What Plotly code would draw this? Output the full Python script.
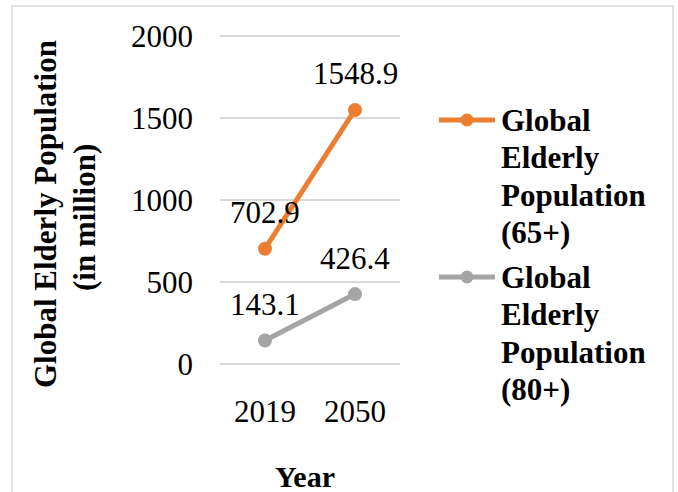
import plotly.graph_objects as go

# ---- data -------------------------------------------------------------
categories = ["2019", "2050"]
pop_65 = [702.9, 1548.9]
pop_80 = [143.1, 426.4]
series_names = ["Global Elderly Population (65+)", "Global Elderly Population (80+)"]
y_ticks = [0, 500, 1000, 1500, 2000]

# ---- layout constants (pixels) -----------------------------------------
W, H = 678, 492
L, R, T, B = 220, 400, 34, 366   # plot area, slightly padded vertically
Y_PAD = 12                       # data units of padding so edge gridlines are kept
FONT = "Times New Roman, Liberation Serif, serif"
ORANGE = "#ED7D31"
GRAY = "#A5A5A5"
FS = 31


def px_x(p):
    return (p - L) / (R - L)


def px_y(p):
    return (B - p) / (B - T)


fig = go.Figure()
series = [(series_names[0], pop_65, ORANGE), (series_names[1], pop_80, GRAY)]
for name, vals, col in series:
    fig.add_trace(go.Scatter(
        x=categories, y=vals, name=name, mode="lines+markers",
        line=dict(color=col, width=5),
        marker=dict(color=col, size=14),
        showlegend=False, cliponaxis=False,
    ))

annotations = []
shapes = []

# value labels above each point
for name, vals, col in series:
    for i, v in enumerate(vals):
        annotations.append(dict(
            x=i, y=v, xref="x", yref="y", text=f"{v:.1f}", showarrow=False,
            xanchor="center", yanchor="middle", yshift=36,
            font=dict(family=FONT, size=FS, color="black"),
        ))

# legend drawn at the right of the plot
legend_rows = [120, 277]
line_gap = 37.5
for (name, vals, col), y0 in zip(series, legend_rows):
    shapes.append(dict(type="line", xref="paper", yref="paper",
                       x0=px_x(439), x1=px_x(495), y0=px_y(y0), y1=px_y(y0),
                       line=dict(color=col, width=5)))
    shapes.append(dict(type="circle", xref="paper", yref="paper",
                       x0=px_x(467 - 6.5), x1=px_x(467 + 6.5),
                       y0=px_y(y0 + 6.5), y1=px_y(y0 - 6.5),
                       fillcolor=col, line=dict(color=col, width=0)))
    for i, word in enumerate(name.split(" ")):
        annotations.append(dict(
            x=px_x(499), y=px_y(y0 + i * line_gap), xref="paper", yref="paper",
            text=f"<b>{word}</b>", showarrow=False, xanchor="left", yanchor="middle",
            font=dict(family=FONT, size=FS, color="black"),
        ))

# axis titles
annotations.append(dict(
    x=px_x(45), y=px_y(214), xref="paper", yref="paper",
    text="<b>Global Elderly Population</b>", textangle=-90, showarrow=False,
    xanchor="center", yanchor="middle", font=dict(family=FONT, size=FS, color="black"),
))
annotations.append(dict(
    x=px_x(84), y=px_y(218), xref="paper", yref="paper",
    text="<b>(in million)</b>", textangle=-90, showarrow=False,
    xanchor="center", yanchor="middle", font=dict(family=FONT, size=FS, color="black"),
))
annotations.append(dict(
    x=px_x(305), y=px_y(476), xref="paper", yref="paper",
    text="<b>Year</b>", showarrow=False,
    xanchor="center", yanchor="middle", font=dict(family=FONT, size=FS - 1, color="black"),
))

# chart frame
shapes.append(dict(type="rect", xref="paper", yref="paper",
                   x0=px_x(12), x1=px_x(673), y0=px_y(6), y1=px_y(520),
                   line=dict(color="#D9D9D9", width=1.5), fillcolor="rgba(0,0,0,0)",
                   layer="below"))

fig.update_layout(
    width=W, height=H,
    margin=dict(l=L, r=W - R, t=T, b=H - B, pad=0),
    paper_bgcolor="white", plot_bgcolor="white",
    font=dict(family=FONT, size=FS, color="black"),
    annotations=annotations, shapes=shapes,
    showlegend=False,
)
fig.update_xaxes(
    type="category", range=[-0.5, 1.5], showgrid=False, showline=False,
    ticks="", ticklabelstandoff=24, tickfont=dict(family=FONT, size=FS),
    zeroline=False,
)
fig.update_yaxes(
    range=[y_ticks[0] - Y_PAD, y_ticks[-1] + Y_PAD], tickvals=y_ticks,
    showgrid=True, gridcolor="#D9D9D9",
    gridwidth=1.5, zeroline=False, showline=False, ticks="",
    ticklabelstandoff=26, tickfont=dict(family=FONT, size=FS),
)

fig.write_html("out.html")
